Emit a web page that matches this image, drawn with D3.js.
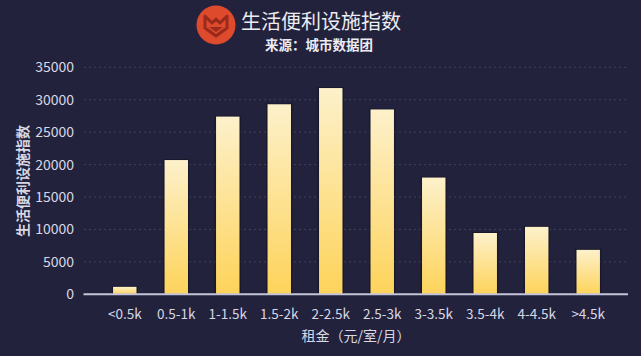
<!DOCTYPE html>
<html><head><meta charset="utf-8">
<script src="https://cdn.jsdelivr.net/npm/d3@7"></script>
<style>
html,body{margin:0;padding:0;background:#22223d;}
svg{display:block;}
text{font-family:"Noto Sans CJK SC","Noto Sans",sans-serif;}
</style></head>
<body>
<script>
const categories = ["<0.5k","0.5-1k","1-1.5k","1.5-2k","2-2.5k","2.5-3k","3-3.5k","3.5-4k","4-4.5k",">4.5k"];
const values = [1150, 20700, 27400, 29300, 31800, 28500, 18000, 9450, 10400, 6850];
const yTicks = [0,5000,10000,15000,20000,25000,30000,35000];
const title = "生活便利设施指数";
const subtitle = "来源：城市数据团";
const xTitle = "租金（元/室/月）";
const yTitle = "生活便利设施指数";

const W = 641, H = 356;
const svg = d3.select("body").append("svg").attr("width", W).attr("height", H);
svg.append("rect").attr("width", W).attr("height", H).attr("fill", "#22223d");

const defs = svg.append("defs");
const grad = defs.append("linearGradient").attr("id","barg").attr("x1",0).attr("y1",0).attr("x2",0).attr("y2",1);
grad.append("stop").attr("offset","0%").attr("stop-color","#fdf1cb");
grad.append("stop").attr("offset","100%").attr("stop-color","#fdd35a");

const x = d3.scaleBand().domain(categories).range([85, 628]).padding(0.545);
const y = d3.scaleLinear().domain([0, 35000]).range([294.3, 67.3]);

// gridlines
svg.append("g").selectAll("line").data(yTicks.filter(d => d > 0)).join("line")
  .attr("x1", 84).attr("x2", 628)
  .attr("y1", d => y(d)).attr("y2", d => y(d))
  .attr("stroke", "#42425e").attr("stroke-width", 1).attr("stroke-dasharray", "2,3");

// y axis labels
const yAxis = d3.axisLeft(y).tickValues(yTicks).tickSize(0).tickPadding(0).tickFormat(d3.format("d"));
const yg = svg.append("g").attr("transform", "translate(74,0)").call(yAxis);
yg.select(".domain").remove();
yg.selectAll("text").attr("fill", "#d8d8e4").attr("font-size", 14).attr("font-family", "'Noto Sans',sans-serif");

// bar shadows
svg.append("g").selectAll("rect").data(values).join("rect")
  .attr("x", (d,i) => x(categories[i]) - 1.5)
  .attr("y", d => y(d) - 1)
  .attr("width", x.bandwidth() + 3)
  .attr("height", d => y(0) - y(d) + 1)
  .attr("fill", "#15141f").attr("opacity", 0.6);

// bars
svg.append("g").selectAll("rect").data(values).join("rect")
  .attr("x", (d,i) => x(categories[i]))
  .attr("y", d => y(d))
  .attr("width", x.bandwidth())
  .attr("height", d => y(0) - y(d))
  .attr("fill", "url(#barg)");

// x axis
const xAxis = d3.axisBottom(x).tickSize(0).tickPadding(15);
const xg = svg.append("g").attr("transform", `translate(0,${y(0)})`).call(xAxis);
xg.select(".domain").attr("stroke", "#c4c4d8").attr("stroke-width", 2).attr("d", "M83.5,0H628");
xg.selectAll("text").attr("fill", "#d8d8e4").attr("font-size", 13.5).attr("font-family", "'Noto Sans',sans-serif");

// axis titles
svg.append("text").attr("x", 356).attr("y", 341).attr("text-anchor", "middle")
  .attr("fill", "#d8d8e4").attr("font-size", 14).text(xTitle);
svg.append("text").attr("transform", "translate(28,181) rotate(-90)").attr("text-anchor", "middle")
  .attr("fill", "#d8d8e4").attr("font-size", 14).attr("font-weight", "bold").text(yTitle);

// title & subtitle
svg.append("text").attr("x", 241).attr("y", 29).attr("fill", "#ececf2").attr("font-size", 20).text(title);
svg.append("text").attr("x", 265).attr("y", 50).attr("fill", "#ececf2").attr("font-size", 13.5).attr("font-weight", "bold").text(subtitle);

// logo
const logo = svg.append("g").attr("transform", "translate(216,25)");
logo.append("circle").attr("r", 19.5).attr("fill", "#de4a2c");
logo.append("path").attr("d", "M-11,-9 L-4,-2 L0,-6 L4,-2 L11,-9 L11,3 L0,11 L-11,3 Z")
  .attr("fill", "none").attr("stroke", "#9a2a1c").attr("stroke-width", 3).attr("stroke-linejoin", "round");
logo.append("path").attr("d", "M-7,2 L7,2 L0,7 Z").attr("fill", "#9a2a1c");
</script>
</body></html>
